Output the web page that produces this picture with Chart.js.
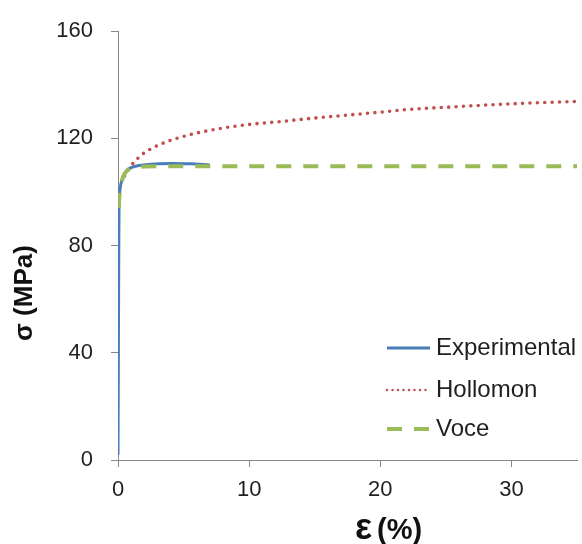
<!DOCTYPE html>
<html>
<head>
<meta charset="utf-8">
<script src="https://cdn.jsdelivr.net/npm/chart.js@4.4.1/dist/chart.umd.min.js"></script>
<style>
  body { margin: 0; background: #fff; }
  #wrap { width: 582px; height: 544px; }
</style>
</head>
<body>
<div id="wrap"><canvas id="chart" width="582" height="544"></canvas></div>
<script>
'use strict';

// ---- data (strain %, stress MPa) ----
const expStrain  = [0, 0.03, 0.06, 0.08, 0.12, 0.2, 0.35, 0.6, 1.0, 1.5, 2.5, 4.0, 5.5, 7.0];
const expStress  = [2, 40, 80, 95, 99.5, 102.5, 105.2, 107.6, 109.1, 109.8, 110.4, 110.6, 110.5, 110.1];

const holStrain  = [0.5, 0.7, 1.0, 1.5, 2.0, 3.0, 4.6, 7.1, 10, 12.2, 15, 17.3, 20, 22.4, 25, 27.5, 30, 32.5, 35];
const holStress  = [106, 107.8, 109.9, 112.5, 114.6, 117.3, 120.2, 123.1, 125.2, 126.2, 127.6, 128.6, 129.8, 130.9, 131.6, 132.3, 132.9, 133.4, 133.8];

const voceStrain = [0.05, 0.1, 0.2, 0.35, 0.5, 0.8, 1.2, 2.0, 3.0, 35];
const voceStress = [94, 98, 102, 105, 106.8, 108.3, 109.1, 109.5, 109.6, 109.6];

const seriesNames = ['Experimental', 'Hollomon', 'Voce'];
const xTicks = [0, 10, 20, 30];
const yTicks = [0, 40, 80, 120, 160];

const toPoints = (xs, ys) => xs.map((x, i) => ({ x: x, y: ys[i] }));

const AXIS_GREY = '#878787';
const TEXT = '#1f1f1f';
const FONT = '"Liberation Sans", Arial, sans-serif';

// legend + axis titles drawn by hand so they sit where the original has them
const decorations = {
    id: 'decorations',
    afterDraw(chart) {
        const ctx = chart.ctx;
        const area = chart.chartArea;
        ctx.save();

        // legend inside the plot, bottom right
        const rows = [area.bottom - 112, area.bottom - 70, area.bottom - 31];
        const lineX0 = area.right - 190, lineX1 = area.right - 147;
        ctx.font = '24px ' + FONT;
        ctx.textBaseline = 'middle';
        chart.data.datasets.forEach((ds, i) => {
            ctx.beginPath();
            ctx.strokeStyle = ds.borderColor;
            ctx.lineWidth = i === 1 ? 2.5 : ds.borderWidth;
            ctx.lineCap = ds.borderCapStyle || 'butt';
            ctx.setLineDash(i === 1 ? [0, 5.5] : (ds.borderDash || []));
            ctx.moveTo(lineX0, rows[i]);
            ctx.lineTo(lineX1, rows[i]);
            ctx.stroke();
            ctx.setLineDash([]);
            ctx.fillStyle = TEXT;
            ctx.textAlign = 'left';
            ctx.fillText(ds.label, lineX1 + 6, rows[i]);
        });

        // x axis title: big epsilon then (%)
        ctx.fillStyle = '#111';
        ctx.textAlign = 'left';
        ctx.textBaseline = 'alphabetic';
        ctx.font = 'bold 36px ' + FONT;
        const epsW = ctx.measureText('ε').width;
        ctx.fillText('ε', 355, chart.height - 5);
        ctx.font = 'bold 29px ' + FONT;
        ctx.fillText('(%)', 355 + epsW + 5, chart.height - 5);

        // y axis title
        ctx.font = 'bold 26px ' + FONT;
        ctx.textAlign = 'center';
        ctx.textBaseline = 'middle';
        ctx.translate(25, 293);
        ctx.rotate(-Math.PI / 2);
        ctx.fillText('σ (MPa)', 0, 0);
        ctx.restore();
    }
};

new Chart(document.getElementById('chart'), {
    type: 'line',
    data: {
        datasets: [
            {
                label: seriesNames[0],
                data: toPoints(expStrain, expStress),
                borderColor: '#4a7ebb',
                borderWidth: 3,
                cubicInterpolationMode: 'monotone',
                pointRadius: 0,
                order: 2
            },
            {
                label: seriesNames[1],
                data: toPoints(holStrain, holStress),
                borderColor: '#c0504d',
                borderWidth: 3.6,
                borderDash: [0, 7.4],
                borderCapStyle: 'round',
                cubicInterpolationMode: 'monotone',
                pointRadius: 0,
                order: 1
            },
            {
                label: seriesNames[2],
                data: toPoints(voceStrain, voceStress),
                borderColor: '#9bbb59',
                borderWidth: 4,
                borderDash: [15, 12],
                cubicInterpolationMode: 'monotone',
                pointRadius: 0,
                order: 0
            }
        ]
    },
    options: {
        responsive: false,
        animation: false,
        layout: { padding: { top: 27, right: 5, left: 0, bottom: 0 } },
        plugins: {
            legend: { display: false },
            tooltip: { enabled: false }
        },
        scales: {
            x: {
                type: 'linear',
                min: 0,
                max: 35,
                afterFit: s => { s.height = 84; },
                afterBuildTicks: s => { s.ticks = xTicks.map(v => ({ value: v })); },
                border: { color: AXIS_GREY, width: 1 },
                grid: { drawOnChartArea: false, drawTicks: true, tickLength: 7, color: AXIS_GREY },
                ticks: { color: TEXT, font: { size: 22, family: FONT }, padding: 10, maxRotation: 0 }
            },
            y: {
                type: 'linear',
                min: 0,
                max: 160,
                afterFit: s => { s.width = 118; },
                afterBuildTicks: s => { s.ticks = yTicks.map(v => ({ value: v })); },
                border: { color: AXIS_GREY, width: 1 },
                grid: { drawOnChartArea: false, drawTicks: true, tickLength: 7, color: AXIS_GREY },
                ticks: { color: TEXT, font: { size: 22, family: FONT }, padding: 18 }
            }
        }
    },
    plugins: [decorations]
});
</script>
</body>
</html>
